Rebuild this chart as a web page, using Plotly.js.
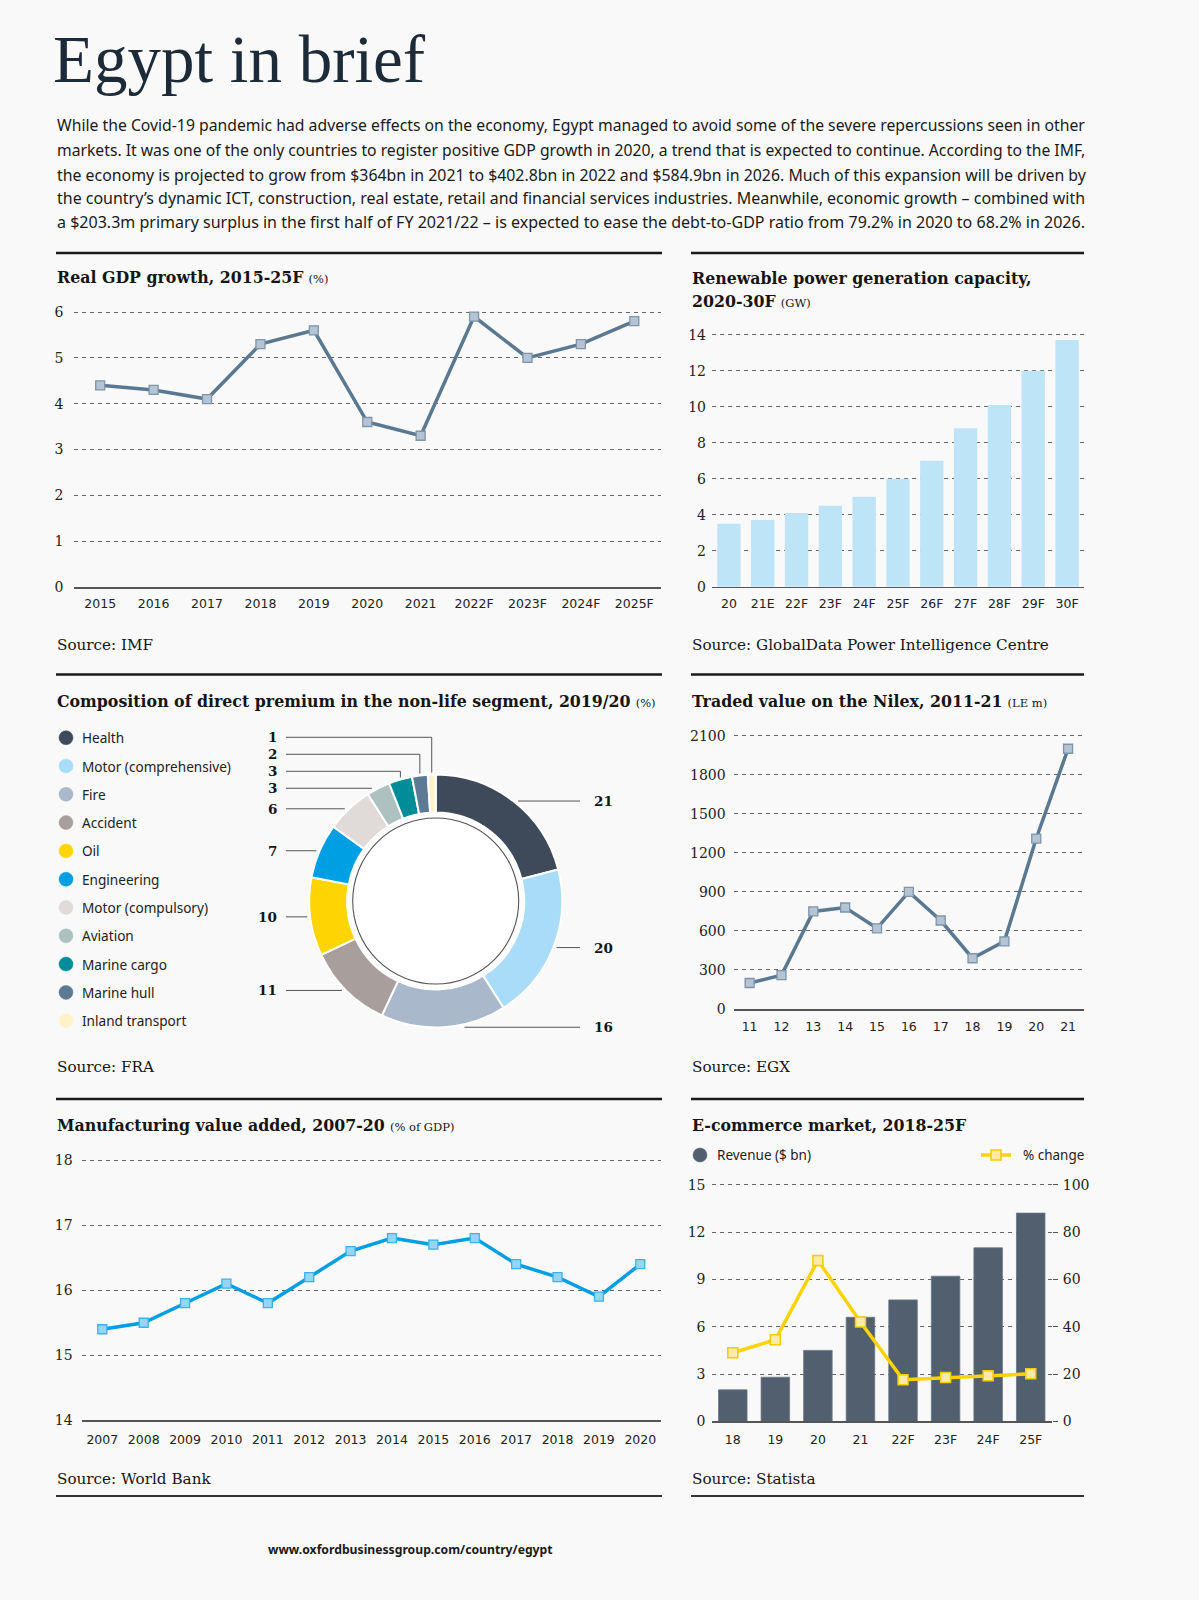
<!DOCTYPE html>
<html><head><meta charset="utf-8">
<script src="https://cdn.plot.ly/plotly-3.0.1.min.js"></script>
<style>html,body{margin:0;padding:0;background:#f9f9f9}</style>
</head><body><div id="chart" style="width:1199px;height:1600px"></div>
<script>
// ---------- DATA ----------
const gdpYears = ['2015','2016','2017','2018','2019','2020','2021','2022F','2023F','2024F','2025F'];
const gdpGrowth = [4.4,4.3,4.1,5.3,5.6,3.6,3.3,5.9,5.0,5.3,5.8];

const renewYears = ['20','21E','22F','23F','24F','25F','26F','27F','28F','29F','30F'];
const renewGW = [3.5,3.7,4.1,4.5,5.0,6.0,7.0,8.8,10.1,12.0,13.7];

const premiumLabels = ['Health','Motor (comprehensive)','Fire','Accident','Oil','Engineering','Motor (compulsory)','Aviation','Marine cargo','Marine hull','Inland transport'];
const premiumShares = [21,20,16,11,10,7,6,3,3,2,1];
const premiumColors = ['#3e4a59','#a8dcf8','#a9b8ca','#a89f9c','#ffd500','#009fe3','#e0dad8','#adc2c0','#008c99','#5c7a94','#fff2c6'];

const nilexYears = ['11','12','13','14','15','16','17','18','19','20','21'];
const nilexValue = [200,260,750,780,620,900,680,390,520,1310,2000];

const mfgYears = ['2007','2008','2009','2010','2011','2012','2013','2014','2015','2016','2017','2018','2019','2020'];
const mfgShare = [15.4,15.5,15.8,16.1,15.8,16.2,16.6,16.8,16.7,16.8,16.4,16.2,15.9,16.4];

const ecomYears = ['18','19','20','21','22F','23F','24F','25F'];
const ecomRevenue = [2.0,2.8,4.5,6.6,7.7,9.2,11.0,13.2];
const ecomChange = [29,34.5,68,42,17.6,18.5,19.3,20.1];

const paragraphLines = [
  'While the Covid-19 pandemic had adverse effects on the economy, Egypt managed to avoid some of the severe repercussions seen in other',
  'markets. It was one of the only countries to register positive GDP growth in 2020, a trend that is expected to continue. According to the IMF,',
  'the economy is projected to grow from $364bn in 2021 to $402.8bn in 2022 and $584.9bn in 2026. Much of this expansion will be driven by',
  'the country\u2019s dynamic ICT, construction, real estate, retail and financial services industries. Meanwhile, economic growth \u2013 combined with',
  'a $203.3m primary surplus in the first half of FY 2021/22 \u2013 is expected to ease the debt-to-GDP ratio from 79.2% in 2020 to 68.2% in 2026.'
];

// ---------- HELPERS ----------
const W = 1199, H = 1600;
const X = p => p / W, Y = p => 1 - p / H;
const serif = '"DejaVu Serif", serif';
const sans = '"Noto Sans", sans-serif';
const xsans = '"DejaVu Sans", sans-serif';
const BG = '#f9f9f9';
const ink = '#222222';

function yd(p0, per, r0, r1) { return [Y(p0), Y(p0 - (r1 - r0) * per)]; }
function T(text, px, py, font, xanchor, yanchor) {
  return {text: text, x: X(px), y: Y(py), xref: 'paper', yref: 'paper',
    xanchor: xanchor || 'left', yanchor: yanchor || 'middle', showarrow: false,
    font: font, align: (xanchor === 'right') ? 'right' : 'left', borderpad: 0};
}
function L(x0, y0, x1, y1, color, width) {
  return {type: 'line', xref: 'paper', yref: 'paper', x0: X(x0), y0: Y(y0), x1: X(x1), y1: Y(y1),
    line: {color: color, width: width}};
}
function C(cx, cy, r, fill, lineColor, lw, layer) {
  return {type: 'circle', xref: 'paper', yref: 'paper', x0: X(cx - r), x1: X(cx + r), y0: Y(cy + r), y1: Y(cy - r),
    fillcolor: fill, line: {color: lineColor, width: lw}, layer: layer || 'above'};
}
const ctx = document.createElement('canvas').getContext('2d');
function fitSize(text, family, target) {
  ctx.font = '100px ' + family;
  const w = ctx.measureText(text).width;
  return Math.max(13, Math.min(17, 100 * target / w));
}

const titleFont = {family: serif, size: 15.8, color: '#151515'};
const unit = s => ' <span style="font-size:11.5px;font-weight:normal">' + s + '</span>';
const srcFont = {family: serif, size: 15.2, color: '#151515'};

const yBase = {showgrid: true, gridcolor: '#666', griddash: '4px,4px', gridwidth: 1, zeroline: false,
  showline: false, ticks: '', tickfont: {family: serif, size: 14, color: ink}, ticklabelstandoff: 7, fixedrange: true};
const xBase = {type: 'category', showline: true, linecolor: '#555', linewidth: 1.5, showgrid: false, zeroline: false,
  ticks: '', tickfont: {family: xsans, size: 12.5, color: ink}, ticklabelstandoff: 7, fixedrange: true};
const catRange = arr => [-0.5, arr.length - 0.5];

// ---------- TRACES ----------
const lineStyle = {color: '#5b7891', width: 3.5};
const markStyle = {symbol: 'square', size: 9, color: '#b5c3d2', line: {color: '#7e95ab', width: 1.3}};

const traces = [];
traces.push({type: 'scatter', mode: 'lines+markers', x: gdpYears, y: gdpGrowth, xaxis: 'x', yaxis: 'y',
  line: lineStyle, marker: markStyle, cliponaxis: false});
traces.push({type: 'bar', x: renewYears, y: renewGW, xaxis: 'x2', yaxis: 'y2', width: 0.69,
  marker: {color: '#bee4f8'}});

const cx = 435.7, cy = 901, R = 126.5;
traces.push({type: 'pie', values: premiumShares, labels: premiumLabels, sort: false, direction: 'clockwise',
  rotation: 0, hole: 0.70, textinfo: 'none', hoverinfo: 'none',
  marker: {colors: premiumColors, line: {color: '#ffffff', width: 2}},
  domain: {x: [X(cx - R), X(cx + R)], y: [Y(cy + R), Y(cy - R)]}});

traces.push({type: 'scatter', mode: 'lines+markers', x: nilexYears, y: nilexValue, xaxis: 'x3', yaxis: 'y3',
  line: lineStyle, marker: markStyle, cliponaxis: false});
traces.push({type: 'scatter', mode: 'lines+markers', x: mfgYears, y: mfgShare, xaxis: 'x4', yaxis: 'y4',
  line: {color: '#009fe3', width: 3.5},
  marker: {symbol: 'square', size: 9, color: '#95d6f6', line: {color: '#3bb3ea', width: 1.3}}, cliponaxis: false});
traces.push({type: 'bar', x: ecomYears, y: ecomRevenue, xaxis: 'x5', yaxis: 'y5', width: 0.67,
  marker: {color: '#525f6e', line: {color: '#6a7684', width: 0.8}}});
traces.push({type: 'scatter', mode: 'lines+markers', x: ecomYears, y: ecomChange, xaxis: 'x5', yaxis: 'y6',
  line: {color: '#ffd300', width: 3.5},
  marker: {symbol: 'square', size: 10, color: '#fdeaa6', line: {color: '#f5cc00', width: 1.5}}, cliponaxis: false});

// ---------- SHAPES & ANNOTATIONS ----------
const shapes = [], ann = [];

// rules
[253, 674.5, 1099].forEach(y => {
  shapes.push(L(56, y, 662, y, '#1a1a1a', 2.5));
  shapes.push(L(691, y, 1084, y, '#1a1a1a', 2.5));
});
shapes.push(L(56, 1496, 662, 1496, '#333', 2));
shapes.push(L(691, 1496, 1084, 1496, '#333', 2));

// header
ann.push(T('Egypt in brief', 52, 59, {family: '"Liberation Serif", serif', size: 67, color: '#1d2b39'}));
const paraY = [125.5, 150, 174.5, 198, 221.5];
paragraphLines.forEach((t, i) => {
  ann.push(T(t, 56, paraY[i], {family: sans, size: fitSize(t, '"Noto Sans"', 1029), color: '#1a1a1a'}));
});

// chart titles
ann.push(T('<b>Real GDP growth, 2015-25F</b>' + unit('(%)'), 56, 277.5, titleFont));
ann.push(T('<b>Renewable power generation capacity,</b>', 691, 278.5, titleFont));
ann.push(T('<b>2020-30F</b>' + unit('(GW)'), 691, 301, titleFont));
ann.push(T('<b>Composition of direct premium in the non-life segment, 2019/20</b>' + unit('(%)'), 56, 701, titleFont));
ann.push(T('<b>Traded value on the Nilex, 2011-21</b>' + unit('(LE m)'), 691, 701, titleFont));
ann.push(T('<b>Manufacturing value added, 2007-20</b>' + unit('(% of GDP)'), 56, 1125.5, titleFont));
ann.push(T('<b>E-commerce market, 2018-25F</b>', 691, 1125.5, titleFont));

// sources
ann.push(T('Source: IMF', 56, 645, srcFont));
ann.push(T('Source: GlobalData Power Intelligence Centre', 691, 645, srcFont));
ann.push(T('Source: FRA', 56, 1067, srcFont));
ann.push(T('Source: EGX', 691, 1067, srcFont));
ann.push(T('Source: World Bank', 56, 1478.5, srcFont));
ann.push(T('Source: Statista', 691, 1478.5, srcFont));

// footer
ann.push(T('<b>www.oxfordbusinessgroup.com/country/egypt</b>', 410, 1549, {family: sans, size: 12.2, color: '#1a1a1a'}, 'center'));

// pie legend (manual)
premiumLabels.forEach((lab, i) => {
  const y = 737.7 + i * 28.3;
  shapes.push(C(66, y, 7, premiumColors[i], premiumColors[i], 0.5));
  ann.push(T(lab, 81, y, {family: sans, size: 13.6, color: ink}));
});

// donut hole + inner thin ring
shapes.push(C(cx, cy, R * 0.70, '#ffffff', '#ffffff', 0, 'below'));
shapes.push(C(cx, cy, 83, 'rgba(0,0,0,0)', '#555', 1.1));

// pie leader lines + labels computed from the values
(function () {
  const total = premiumShares.reduce((a, b) => a + b, 0);
  let cum = 0;
  const pts = premiumShares.map(v => {
    const a = (cum + v / 2) / total * 2 * Math.PI; cum += v;
    return {a: a, v: v, x: cx + R * Math.sin(a), y: cy - R * Math.cos(a)};
  });
  const labFont = {family: serif, size: 13.5, color: '#151515'};
  const rr = R + 3;
  let prev = null;
  pts.forEach(p => {
    if (Math.sin(p.a) > 0) {
      const xs = cx + Math.sqrt(Math.max(0, rr * rr - (p.y - cy) * (p.y - cy)));
      shapes.push(L(xs, p.y, 580, p.y, '#555', 1));
      ann.push(T('<b>' + p.v + '</b>', 593, p.y, labFont, 'left'));
    } else {
      let ly = p.y;
      if (prev !== null) ly = Math.min(p.y, prev - 17);
      prev = ly;
      if (ly < p.y - 1) {
        shapes.push(L(286, ly, p.x, ly, '#555', 1));
        shapes.push(L(p.x, ly, p.x, p.y - 2, '#555', 1));
      } else {
        const xe = cx - Math.sqrt(Math.max(0, rr * rr - (ly - cy) * (ly - cy)));
        shapes.push(L(286, ly, xe, ly, '#555', 1));
      }
      ann.push(T('<b>' + p.v + '</b>', 278, ly, labFont, 'right'));
    }
  });
})();

// e-commerce legend (manual)
shapes.push(C(700, 1155, 7, '#525f6e', '#525f6e', 0.5));
ann.push(T('Revenue ($ bn)', 716, 1155, {family: sans, size: 13.5, color: ink}));
shapes.push(L(981, 1155, 1011, 1155, '#ffd300', 3.5));
shapes.push({type: 'rect', xref: 'paper', yref: 'paper', x0: X(991), x1: X(1001), y0: Y(1160), y1: Y(1150),
  fillcolor: '#fdeaa6', line: {color: '#f5cc00', width: 1.5}});
ann.push(T('% change', 1022, 1155, {family: sans, size: 13.5, color: ink}));

// ---------- LAYOUT ----------
const layout = {
  width: W, height: H, autosize: false, margin: {l: 0, r: 0, t: 0, b: 0},
  paper_bgcolor: BG, plot_bgcolor: BG, showlegend: false,
  xaxis: Object.assign({}, xBase, {domain: [X(73.5), X(661)], anchor: 'y', range: catRange(gdpYears), ticklabelstandoff: 4}),
  yaxis: Object.assign({}, yBase, {domain: yd(587, 45.83, 0, 6.2), range: [0, 6.2], dtick: 1, tick0: 0, anchor: 'x', ticklabelstandoff: 9}),
  xaxis2: Object.assign({}, xBase, {domain: [X(712), X(1084)], anchor: 'y2', range: catRange(renewYears), ticklabelstandoff: 5}),
  yaxis2: Object.assign({}, yBase, {domain: yd(586.7, 18.0, 0, 14.4), range: [0, 14.4], dtick: 2, tick0: 0, anchor: 'x2', ticklabelstandoff: 5}),
  xaxis3: Object.assign({}, xBase, {domain: [X(733.7), X(1084)], anchor: 'y3', range: catRange(nilexYears), ticklabelstandoff: 5}),
  yaxis3: Object.assign({}, yBase, {domain: yd(1009, 0.13013, 0, 2170), range: [0, 2170], tickvals: [0,300,600,900,1200,1500,1800,2100], anchor: 'x3'}),
  xaxis4: Object.assign({}, xBase, {domain: [X(81.6), X(661)], anchor: 'y4', range: catRange(mfgYears), ticklabelstandoff: 7}),
  yaxis4: Object.assign({}, yBase, {domain: yd(1420.4, 65.1, 14, 18.1), range: [14, 18.1], dtick: 1, tick0: 14, anchor: 'x4', ticklabelstandoff: 8}),
  xaxis5: Object.assign({}, xBase, {domain: [X(711.5), X(1052)], anchor: 'y5', range: catRange(ecomYears), ticklabelstandoff: 6}),
  yaxis5: Object.assign({}, yBase, {domain: yd(1421.4, 15.78, 0, 15.5), range: [0, 15.5], dtick: 3, tick0: 0, anchor: 'x5', ticklabelstandoff: 5}),
  yaxis6: Object.assign({}, yBase, {domain: yd(1421.4, 15.78, 0, 15.5), range: [0, 103.33], dtick: 20, tick0: 0,
    overlaying: 'y5', side: 'right', anchor: 'x5', showgrid: false, ticks: 'outside', ticklen: 5, tickcolor: '#555', tickwidth: 1, ticklabelstandoff: 2}),
  shapes: shapes,
  annotations: ann
};

Plotly.newPlot('chart', traces, layout, {staticPlot: true, displayModeBar: false});
</script>
</body></html>
